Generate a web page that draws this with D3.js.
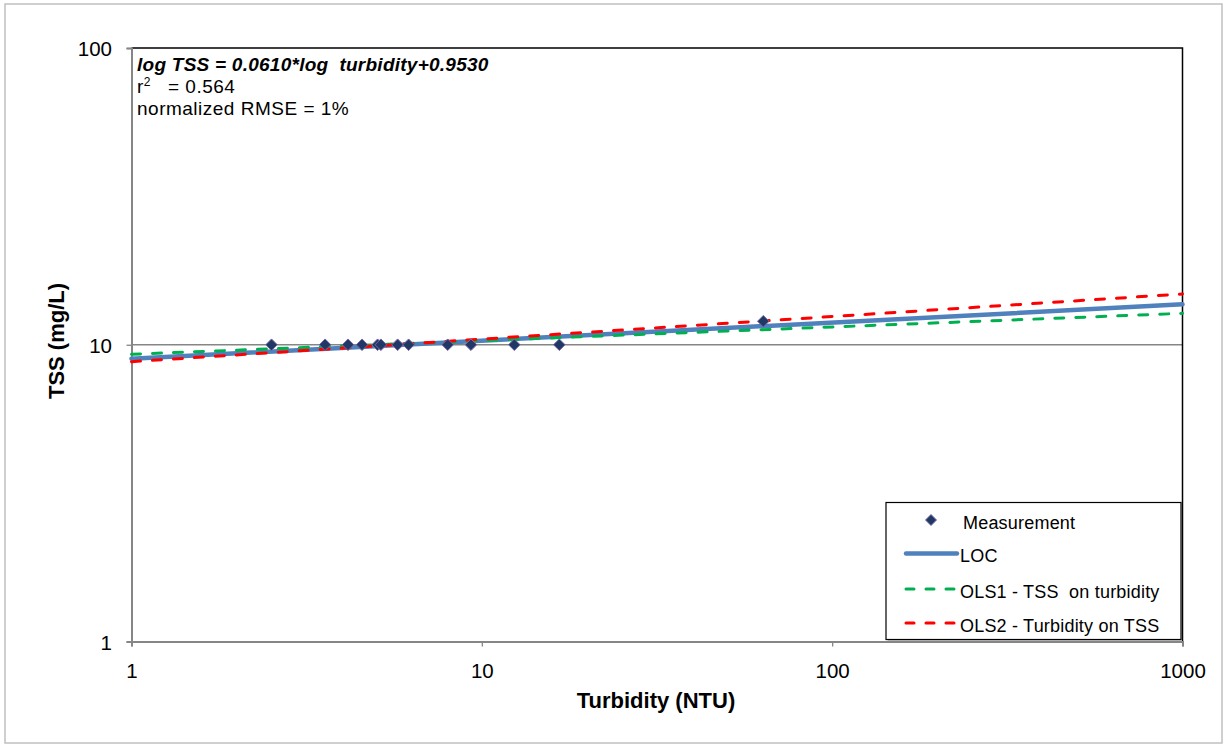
<!DOCTYPE html>
<html><head><meta charset="utf-8">
<script src="https://cdn.jsdelivr.net/npm/d3@7"></script>
<style>
html,body{margin:0;padding:0;background:#fff;}
svg{display:block;font-family:"Liberation Sans",Arial,sans-serif;}
text{white-space:pre;}
</style></head>
<body>
<svg id="chart" width="1228" height="748"></svg>
<script>
// ---- data ----
const turbidity = [2.51, 3.57, 4.15, 4.55, 5.04, 5.15, 5.75, 6.18, 7.99, 9.31, 12.38, 16.64, 63.6];
const tss       = [10, 10, 10, 10, 10, 10, 10, 10, 10, 10, 10, 10, 12];
const lineX     = [1, 1000];
const locY      = [8.97, 13.68];
const ols1Y     = [9.29, 12.76];
const ols2Y     = [8.77, 14.83];
const xTicks    = [1, 10, 100, 1000];
const yTicks    = [1, 10, 100];
const legendLabels = ["Measurement", "LOC", "OLS1 - TSS  on turbidity", "OLS2 - Turbidity on TSS"];

const svg = d3.select("#chart");
const L = 131.5, R = 1182.5, T = 48, B = 641.5;
const x = d3.scaleLog().domain([1, 1000]).range([L, R]);
const y = d3.scaleLog().domain([1, 100]).range([B, T]);

// outer chart border
svg.append("rect").attr("x", 5).attr("y", 4).attr("width", 1217).attr("height", 739)
  .attr("fill", "#fff").attr("stroke", "#c0c0c0").attr("stroke-width", 1.5);

// gridlines
svg.append("g").selectAll("line").data(yTicks.filter(d => d > 1 && d < 100)).join("line")
  .attr("x1", L).attr("x2", R).attr("y1", d => y(d)).attr("y2", d => y(d))
  .attr("stroke", "#868686").attr("stroke-width", 1.3);

// top & right border
svg.append("path").attr("d", `M${L},${T}H${R}V${B}`).attr("fill", "none")
  .attr("stroke", "#000").attr("stroke-width", 1.5);

// axes
const xAxis = svg.append("g").attr("transform", `translate(0,${B})`)
  .call(d3.axisBottom(x).tickValues(xTicks).tickFormat(d3.format("d")).tickSize(5).tickPadding(16.5));
const yAxis = svg.append("g").attr("transform", `translate(${L},0)`)
  .call(d3.axisLeft(y).tickValues(yTicks).tickFormat(d3.format("d")).tickSize(5).tickPadding(14.5));
[xAxis, yAxis].forEach(g => {
  g.select(".domain").attr("stroke", "#868686").attr("stroke-width", 2);
  g.selectAll(".tick line").attr("stroke", "#868686").attr("stroke-width", 1.3);
  g.selectAll(".tick text").attr("fill", "#000").style("font-size", "20.5px")
    .style("font-family", '"Liberation Sans",Arial,sans-serif');
});
yAxis.selectAll(".tick text").attr("dy", "0.38em");

// axis titles
svg.append("text").attr("x", 656).attr("y", 708).attr("text-anchor", "middle")
  .style("font-size", "22px").style("font-weight", "bold").text("Turbidity (NTU)");
svg.append("text").attr("transform", "translate(64,341) rotate(-90)").attr("text-anchor", "middle")
  .style("font-size", "22px").style("font-weight", "bold").text("TSS (mg/L)");

// lines
const lineGen = d3.line().x(d => x(d[0])).y(d => y(d[1]));
const series = [
  {vals: locY, color: "#4f81bd", w: 4.5, dash: null},
  {vals: ols1Y, color: "#00b050", w: 3, dash: "9,12"},
  {vals: ols2Y, color: "#ff0000", w: 3, dash: "9,12"}
];
series.forEach(s => {
  svg.append("path").datum(lineX.map((xv, i) => [xv, s.vals[i]]))
    .attr("d", lineGen).attr("fill", "none").attr("stroke", s.color)
    .attr("stroke-width", s.w).attr("stroke-linecap", "round")
    .attr("stroke-dasharray", s.dash);
});

// markers
const diamond = r => `M0,${-r}L${r},0L0,${r}L${-r},0Z`;
svg.append("g").selectAll("path").data(turbidity.map((t, i) => [t, tss[i]])).join("path")
  .attr("transform", d => `translate(${x(d[0])},${y(d[1])})`)
  .attr("d", diamond(5.8)).attr("fill", "#1f3864").attr("stroke", "#7a67a8").attr("stroke-width", 1);

// annotation
const ann = svg.append("g").style("font-size", "19px").style("letter-spacing", "0.5px");
ann.append("text").attr("x", 137).attr("y", 71).style("font-weight", "bold").style("font-style", "italic")
  .style("letter-spacing", "0.25px")
  .text("log TSS = 0.0610*log  turbidity+0.9530");
const r2 = ann.append("text").attr("x", 137).attr("y", 93);
r2.append("tspan").text("r");
r2.append("tspan").attr("dy", -7).style("font-size", "12px").text("2");
r2.append("tspan").attr("x", 168).attr("dy", 7).text("= 0.564");
ann.append("text").attr("x", 137).attr("y", 115).text("normalized RMSE = 1%");

// legend
const lg = svg.append("g");
lg.append("rect").attr("x", 887.5).attr("y", 504).attr("width", 294.5).attr("height", 137)
  .attr("fill", "#bfbfbf");
lg.append("rect").attr("x", 886).attr("y", 502.5).attr("width", 295).attr("height", 137)
  .attr("fill", "#fff").attr("stroke", "#000").attr("stroke-width", 1.2);
const rowsY = [520, 553.5, 589, 623];
lg.append("path").attr("transform", `translate(931,${rowsY[0]})`).attr("d", diamond(5.5))
  .attr("fill", "#1f3864").attr("stroke", "#7a67a8").attr("stroke-width", 1);
series.forEach((s, i) => {
  lg.append("line").attr("x1", 906).attr("x2", 957).attr("y1", rowsY[i + 1]).attr("y2", rowsY[i + 1])
    .attr("stroke", s.color).attr("stroke-width", s.w).attr("stroke-linecap", "round")
    .attr("stroke-dasharray", s.dash ? "8,12" : null);
});
lg.selectAll("text").data(legendLabels).join("text")
  .attr("x", (d, i) => i === 0 ? 963 : 960).attr("y", (d, i) => rowsY[i] + 8.5)
  .style("font-size", "18px").style("letter-spacing", "0.2px").text(d => d);
</script>
</body></html>
